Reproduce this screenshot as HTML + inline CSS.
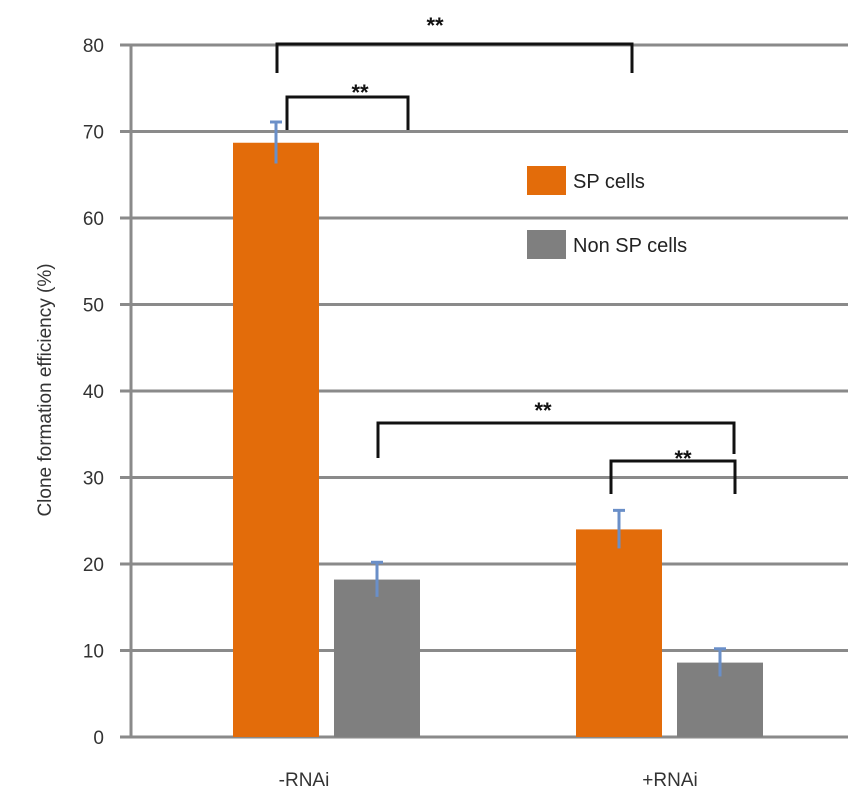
<!DOCTYPE html>
<html><head><meta charset="utf-8"><style>
body{margin:0;background:#fff}
svg{display:block;font-family:"Liberation Sans",sans-serif}
</style></head><body>
<svg id="c" width="868" height="806"></svg>
<script>
const categories=["-RNAi","+RNAi"];
const spValues=[68.7,24.0];
const spErrors=[2.4,2.2];
const nonSpValues=[18.2,8.6];
const nonSpErrors=[2.0,1.6];
const yTicks=[0,10,20,30,40,50,60,70,80];
const seriesNames=["SP cells","Non SP cells"];
const NS="http://www.w3.org/2000/svg";
const svg=document.getElementById('c');
function y(v){return 737-v*(692/80);}
function mk(t,a,p){const e=document.createElementNS(NS,t);for(const k in a)e.setAttribute(k,a[k]);(p||svg).appendChild(e);return e;}
const catCenter=[277,620];
const labelOffset=[27,50];
yTicks.forEach(t=>{
 const l=mk('line',{x1:120,x2:848,y1:y(t),y2:y(t),stroke:'#8a8a8a','stroke-width':3});
 
 
 const tx=mk('text',{x:104,y:y(t)+7,'text-anchor':'end','font-size':19,fill:'#333'});
 tx.textContent=t;
 
 
});
const ax=mk('line',{x1:131,x2:131,y1:45,y2:737,stroke:'#8a8a8a','stroke-width':3});


const bw=86;
function bar(cx,v,e,col,name){
 const r=mk('rect',{x:cx,y:y(v),width:bw,height:y(0)-y(v),fill:col});
 
 
 const g=mk('g',{stroke:'#6a8fc8','stroke-width':3});
 
 
 const m=cx+bw/2;
 mk('line',{x1:m,x2:m,y1:y(v+e),y2:y(v-e)},g);
 mk('line',{x1:m-6,x2:m+6,y1:y(v+e),y2:y(v+e)},g);
}
categories.forEach((c,i)=>{
 const cx=catCenter[i];
 bar(cx-44,spValues[i],spErrors[i],'#e36c0a','bar-sp-'+c);
 bar(cx+57,nonSpValues[i],nonSpErrors[i],'#7f7f7f','bar-nonsp-'+c);
 const t=mk('text',{x:cx+labelOffset[i],y:786,'text-anchor':'middle','font-size':19,fill:'#333'});
 t.textContent=c;
 
 
});
function br(x1,x2,yt,yl,yr,sx,sy,name){
 const g=mk('g',{fill:'none',stroke:'#111','stroke-width':3});
 
 
 mk('polyline',{points:`${x1},${yl} ${x1},${yt} ${x2},${yt} ${x2},${yr}`},g);
 const t=mk('text',{x:sx,y:sy,'text-anchor':'middle','font-size':22,'font-weight':'bold',fill:'#111'});
 t.textContent='**';
 
 
}
br(277,632,44,73,73,435,33,'bracket-rnai-sp');
br(287,408,97,130,130,360,100,'bracket-minus-rnai');
br(378,734,423,458,454,543,418,'bracket-sp-nonsp');
br(611,735,461,494,494,683,466,'bracket-plus-rnai');
[['#e36c0a',166,seriesNames[0]],['#7f7f7f',230,seriesNames[1]]].forEach((d,i)=>{
 const r=mk('rect',{x:527,y:d[1],width:39,height:29,fill:d[0]});
 
 
 const t=mk('text',{x:573,y:d[1]+22,'font-size':20,fill:'#222'});
 t.textContent=d[2];
 
 
});
const yt=mk('text',{x:0,y:0,'text-anchor':'middle','font-size':19,fill:'#333',transform:'translate(51,390) rotate(-90)'});
yt.textContent='Clone formation efficiency (%)';


</script>
</body></html>
